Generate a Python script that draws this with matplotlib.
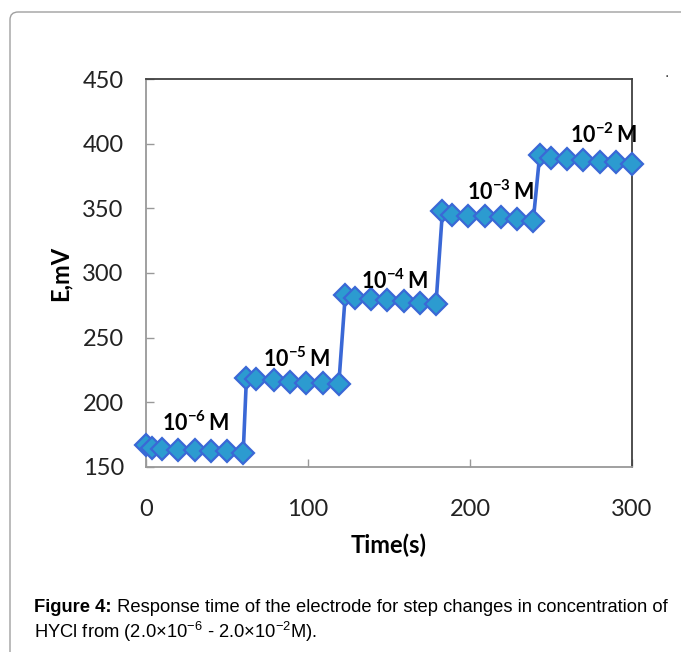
import matplotlib.pyplot as plt
from matplotlib.patches import FancyBboxPatch

plt.rcParams["mathtext.fontset"] = "custom"
plt.rcParams["mathtext.rm"] = "Lato"
plt.rcParams["mathtext.bf"] = "Lato:bold"
plt.rcParams["mathtext.sf"] = "Liberation Sans"

# step response readings (time in s, potential in mV)
time_s = [0, 4, 10, 20, 30, 40, 50, 60,
          62, 68, 79, 89, 99, 109, 119,
          123, 129, 139, 149, 159, 169, 179,
          183, 189, 199, 209, 219, 229, 239,
          243, 250, 260, 270, 280, 290, 300]
e_mv = [167, 165, 164, 163, 163, 162, 162, 161,
        219, 218, 217, 216, 215, 215, 214,
        283, 281, 280, 279, 278, 277, 276,
        348, 345, 344, 344, 343, 342, 340,
        391, 389, 388, 387, 386, 386, 384]

conc_labels = [r"$\mathbf{10^{-6}\,M}$", r"$\mathbf{10^{-5}\,M}$", r"$\mathbf{10^{-4}\,M}$",
               r"$\mathbf{10^{-3}\,M}$", r"$\mathbf{10^{-2}\,M}$"]
label_x = [10, 72, 133, 198, 262]
label_y = [184, 234, 294, 363, 407]

tick_font = ["Lato", "DejaVu Sans"]
cap_font = ["Liberation Sans", "DejaVu Sans"]

fig = plt.figure(figsize=(6.81, 6.52), dpi=100)

# rounded panel border round the figure
frame = FancyBboxPatch((10 / 681, -0.2), 1.2, 1.0 - 12 / 652 + 0.2,
                       boxstyle="round,pad=0,rounding_size=0.012",
                       transform=fig.transFigure, fill=False,
                       edgecolor="#a0a0a0", lw=1.0)
fig.patches.append(frame)

ax = fig.add_axes([146 / 681, 185 / 652, 486 / 681, 388 / 652])
ax.plot(time_s, e_mv, color="#3a68d6", lw=2.6, marker="D", markersize=11.5,
        markerfacecolor="#2c9bd0", markeredgecolor="#3a68d6", markeredgewidth=1.6,
        clip_on=False, zorder=3)

for txt, x, y in zip(conc_labels, label_x, label_y):
    ax.text(x, y, txt, fontsize=15.5, va="center", ha="left")

ax.set_xlim(0, 300)
ax.set_ylim(150, 450)
ax.set_xticks([0, 100, 200, 300])
ax.set_yticks(range(150, 451, 50))
ax.tick_params(direction="in", length=6, width=1, color="#999999")
ax.tick_params(axis="y", pad=16)
ax.tick_params(axis="x", pad=23)
for lab in ax.get_xticklabels() + ax.get_yticklabels():
    lab.set_family(tick_font)
    lab.set_fontsize(17)
    lab.set_color("#222222")

ax.spines["left"].set_color("#999999")
ax.spines["bottom"].set_color("#999999")
ax.spines["top"].set_color("#404040")
ax.spines["right"].set_color("#404040")
for s in ax.spines.values():
    s.set_linewidth(1.3)

ax.set_xlabel("Time(s)", fontsize=17, fontweight="bold", family=tick_font, labelpad=10)
ax.set_ylabel("E,mV", fontsize=17, fontweight="bold", family=tick_font, labelpad=8)

fig.text(0.976, 0.882, ".", fontsize=10, color="#333333")

# caption: bold lead-in, then regular text placed right after it
lead = fig.text(34 / 681, 1 - 608 / 652, "Figure 4:", fontsize=13.2, fontweight="bold",
                family=cap_font, va="center")
ax.annotate(" Response time of the electrode for step changes in concentration of",
            xy=(1, 0.5), xycoords=lead, va="center", ha="left",
            fontsize=13.2, family=cap_font, annotation_clip=False)
fig.text(34 / 681, 1 - 632 / 652,
         r"HYCl from (2.0×10$^{\mathsf{-6}}$ - 2.0×10$^{\mathsf{-2}}$M).",
         fontsize=13.2, family=cap_font, va="center")

fig.savefig("out.png", dpi=100)
